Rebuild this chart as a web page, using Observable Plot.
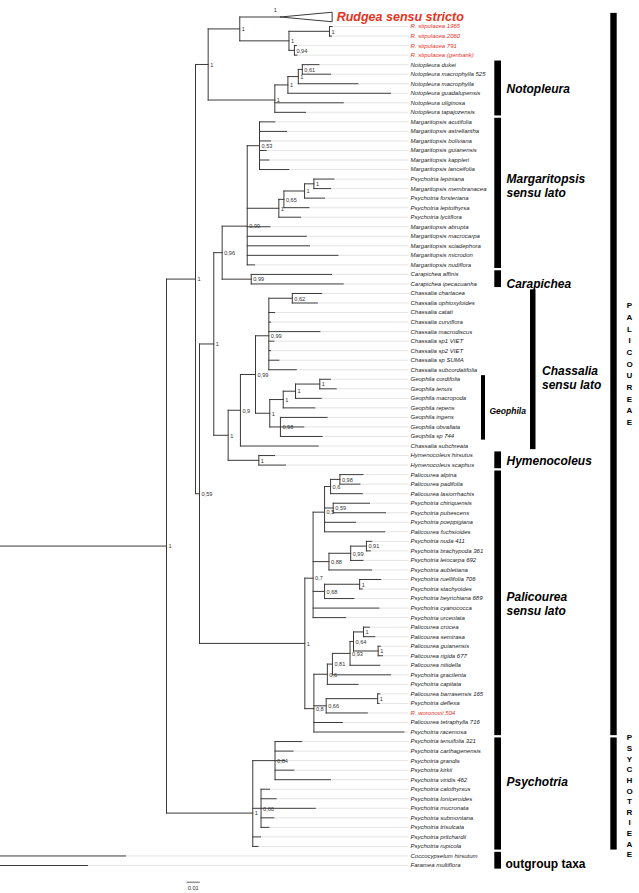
<!DOCTYPE html>
<html><head><meta charset="utf-8">
<script src="https://cdn.jsdelivr.net/npm/d3@7"></script>
<script src="https://cdn.jsdelivr.net/npm/@observablehq/plot@0.6"></script>
<style>html,body{margin:0;padding:0;background:#fff;overflow:hidden}</style>
</head><body><div id="chart"></div>
<script>
// ---------- DATA: clades as Newick strings (branch lengths in substitutions/site, node labels = posterior support) ----------
const rudgea = "('Rudgea sensu stricto':0.0305,(('R. stipulacea 1965':0.0019,'R. stipulacea 2060':0.0015)1:0.0304,('R. stipulacea 791':0.0015,'R. stipulacea (genbank)':0.0019)0.94:0.0041)1:0.0369)1:0.0237";
const notopleura = "(((('Notopleura dukei':0.0125,'Notopleura macrophylla 525':0.0212)0.61:0.0030,'Notopleura macrophylla':0.0447)1:0.0078,'Notopleura guadalupensis':0.0770)1:0.0098,'Notopleura uliginosa':0.0513,'Notopleura tapajozensis':0.0230)1:0.0500";
const margaritopsis = "(('Margaritopsis acutifolia':0.0115,'Margaritopsis astrellantha':0.0203,'Margaritopsis boliviana':0.0083,'Margaritopsis guianensis':0.0050,'Margaritopsis kappleri':0.0070,'Margaritopsis lanceifolia':0.0220)0.53:0.0092,(((('Psychotria lepiniana':0.0150,'Margaritopsis membranacea':0.0125)1:0.0070,'Psychotria forsteriana':0.0150)1:0.0155,'Psychotria leptothyrsa':0.0188)0.65:0.0038,'Psychotria lyciiflora':0.0163)1:0.0237,'Margaritopsis abrupta':0.0170,'Margaritopsis macrocarpa':0.0443,'Margaritopsis sciadephora':0.0467,'Margaritopsis microdon':0.0680,'Margaritopsis nudiflora':0.0055)0.99:0.0188";
const carapichea = "('Carapichea affinis':0.0602,'Carapichea ipecacuanha':0.0690)0.99:0.0218";
const chassalia = "(('Chassalia chartacea':0.0220,'Chassalia ophioxyloides':0.0188)0.62:0.0176,'Chassalia catati':0.0043,'Chassalia curviflora':0.0013,'Chassalia macrodiscus':0.0383,'Chassalia sp1 VIET':0.0038,'Chassalia sp2 VIET':0.0013,'Chassalia sp SUMA':0.0075,'Chassalia subcordatifolia':0.0206)0.99:0.0100";
const geophila = "(((('Geophila cordifolia':0.0080,'Geophila tenuis':0.0123)1:0.0182,'Geophila macropoda':0.0193)1:0.0092,'Geophila repens':0.0237)1:0.0101,('Geophila ingens':0.0350,'Geophila obvallata':0.0175,'Geophila sp 744':0.0313)0.98:0.0080)1:0.0107";
const hymenocoleus = "('Hymenocoleus hirsutus':0.0118,'Hymenocoleus scaphus':0.0200)1:0.0230";
const palicoureaA = "((('Palicourea alpina':0.0173,'Palicourea padifolia':0.0150)0.98:0.0070,'Palicourea lasiorrhachis':0.0238)0.6:0.0045,('Psychotria chiriquensis':0.0272,'Psychotria pubescens':0.0392)0.59:0.0065,'Psychotria poeppigiana':0.0233,'Palicourea fuchsioides':0.0450)0.5:0.0086";
const palicoureaB = "((('Psychotria nuda 411':0.0040,'Psychotria brachypoda 361':0.0029)0.91:0.0118,'Psychotria leiocarpa 692':0.0092)0.99:0.0163,'Psychotria aubletiana':0.0320)0.88:0.0119";
const palicoureaC = "(('Psychotria ruellifolia 706':0.0158,'Psychotria stachyoides':0.0020)1:0.0263,'Psychotria beyrichiana 689':0.0220)0.68:0.0086";
const palicoureaD = "((((('Palicourea crocea':0.0044,'Palicourea semirasa':0.0085)1:0.0075,('Palicourea guianensis':0.0017,'Palicourea rigida 677':0.0032)1:0.0185)0.64:0.0026,'Palicourea nitidella':0.0223)0.93:0.0132,'Psychotria gracilenta':0.0437)0.81:0.0038,'Psychotria capitata':0.0230)0.6:0.0101";
const palicoureaE = "(('Palicourea barrasensis 165':0.0017,'Psychotria deflexa':0.0011)1:0.0386,'R. woronovii 504':0.0309)0.66:0.0092";
const psychotria = "(('Psychotria tenuifolia 321':0.0199,'Psychotria carthagenensis':0.0135,'Psychotria grandis':0.0074,'Psychotria kirkii':0.0141,'Psychotria viridis 462':0.0416)0.84:0.0167,('Psychotria calothyrsus':0.0064,'Psychotria loniceroides':0.0113,'Psychotria mucronata':0.0407,'Psychotria submontana':0.0096,'Psychotria trisulcata':0.0059)0.66:0.0062,'Psychotria pritchardii':0.0058,'Psychotria rupicola':0.0039)1:0.0647";
const outgroups = "'Coccocypselum hirsutum':0.10875,'Faramea multiflora':0.08025";

const palicoureaY1 = `(${palicoureaA},${palicoureaB},${palicoureaC},'Psychotria cyanococca':0.0494,'Psychotria urceolata':0.0244)0.7:0.0062`;
const palicoureaY2 = `(${palicoureaD},${palicoureaE},'Palicourea tetraphylla 716':0.0213,'Psychotria racemosa':0.0675)0.8:0.0068`;
const palicourea = `(${palicoureaY1},${palicoureaY2})1:0.0790`;
const chassaliaSL = `(((${chassalia},${geophila})0.99:0.0113,'Chassalia subchreata':0.0583)0.9:0.0092,${hymenocoleus})1:0.0108`;
const margCara = `(${margaritopsis},${carapichea})0.96:0.0063`;
const lower = `((${margCara},${chassaliaSL})1:0.0107,${palicourea})0.59:0.0030`;
const upper = `(${rudgea},${notopleura})1:0.0095`;
const treeNewick = `(((${upper},${lower})1:0.02175,${psychotria})1:0.1395,${outgroups});`;

// collapsed clade drawn as triangle
const collapsedTaxa = ["Rudgea sensu stricto"];
const collapsedDepth = [0.0388];
const collapsedSupport = [1];
// taxa printed in red
const redTaxa = ["Rudgea sensu stricto", "R. stipulacea 1965", "R. stipulacea 2060", "R. stipulacea 791", "R. stipulacea (genbank)", "R. woronovii 504"];

// groups (bracket bars)
const groupNames = ["Notopleura", "Margaritopsis\nsensu lato", "Carapichea", "Chassalia\nsensu lato", "Geophila", "Hymenocoleus", "Palicourea\nsensu lato", "Psychotria", "outgroup taxa"];
const groupFirst = ["Notopleura dukei", "Margaritopsis acutifolia", "Carapichea affinis", "Chassalia chartacea", "Geophila cordifolia", "Hymenocoleus hirsutus", "Palicourea alpina", "Psychotria tenuifolia 321", "Coccocypselum hirsutum"];
const groupLast = ["Notopleura tapajozensis", "Margaritopsis nudiflora", "Carapichea ipecacuanha", "Chassalia subchreata", "Geophila sp 744", "Hymenocoleus scaphus", "Psychotria racemosa", "Psychotria rupicola", "Faramea multiflora"];
const groupLevel = [1, 1, 1, 2, 0, 1, 1, 1, 1];
// tribes
const tribeNames = ["PALICOUREAE", "PSYCHOTRIEAE"];
const tribeFirst = ["Rudgea sensu stricto", "Psychotria tenuifolia 321"];
const tribeLast = ["Psychotria racemosa", "Psychotria rupicola"];
const scaleBarLength = 0.01;

// ---------- layout / style (pixels) ----------
const W = 639, H = 893;
const PX = 0.00075;               // substitutions per pixel
const rootPx = -20;               // root sits just left of the frame
const xOf = p => (p - rootPx) * PX;
const yTop = 16.5, yBottom = 865;
const yStep = (yBottom - yTop) / 89;
const labelPx = 410;
const levelBar = [[481, 485], [494.3, 501], [530, 535.5]];
const levelLabel = [489, 506, 541.5];
const levelFont = [8.5, 12, 12];
const labelNudge = {"Margaritopsis\nsensu lato": -8, "Carapichea": 4, "Chassalia\nsensu lato": 8, "Geophila": 3, "Psychotria": -12, "outgroup taxa": 3};
const tribeBar = [610.3, 616.7];
const tribeNudge = [-11.5, 1.5];
const tribeLine = [1.46, 1.33];
const RED = "#e8321e", INK = "#1c1c1c", LINE = "#3a3a3a";
const FONT = '"Liberation Sans", Arial, Helvetica, sans-serif';

// ---------- Newick parsing ----------
function parseNewick(s) {
  let i = 0;
  const ws = () => { while (i < s.length && /\s/.test(s[i])) i++; };
  function node() {
    ws();
    const n = {children: [], label: "", length: 0};
    if (s[i] === "(") {
      i++;
      n.children.push(node()); ws();
      while (s[i] === ",") { i++; n.children.push(node()); ws(); }
      i++; // ')'
    }
    ws();
    if (s[i] === "'") { i++; let t = ""; while (s[i] !== "'") t += s[i++]; i++; n.label = t; }
    else { let t = ""; while (i < s.length && !":,();".includes(s[i])) t += s[i++]; n.label = t.trim(); }
    ws();
    if (s[i] === ":") { i++; let t = ""; while (i < s.length && !",();".includes(s[i])) t += s[i++]; n.length = +t; }
    return n;
  }
  return node();
}

const root = parseNewick(treeNewick);
const nodes = [], leaves = [];
(function walk(n, parent) {
  n.parent = parent;
  n.depth = parent ? parent.depth + n.length : 0;
  nodes.push(n);
  if (!n.children.length) { n.y = leaves.length; leaves.push(n); }
  else {
    n.children.forEach(c => walk(c, n));
    n.y = d3.mean(n.children, c => c.y);
    n.y1 = d3.min(n.children, c => c.y);
    n.y2 = d3.max(n.children, c => c.y);
  }
})(root, null);
const leafIndex = new Map(leaves.map(l => [l.label, l.y]));
const internal = nodes.filter(n => n.children.length);
const supported = internal.filter(n => n.parent && n.label !== "");
const fmt = v => (+v === 1 ? "1" : String(+v).replace(".", ","));

const collapsed = collapsedTaxa.map((t, k) => {
  const leaf = leaves.find(l => l.label === t);
  return {leaf, len: collapsedDepth[k], support: collapsedSupport[k]};
});
const triangles = collapsed.flatMap((c, k) => {
  const x0 = c.leaf.depth, x1 = x0 + c.len, y = c.leaf.y;
  return [{k, x: x0, y}, {k, x: x1, y: y - 0.5}, {k, x: x1, y: y + 0.5}, {k, x: x0, y}];
});
const plainLeaves = leaves.filter(l => !collapsedTaxa.includes(l.label));

const groups = groupNames.map((name, k) => {
  const a = leafIndex.get(groupFirst[k]), b = leafIndex.get(groupLast[k]);
  return {name, a, b, level: groupLevel[k], mid: (a + b) / 2 + (labelNudge[name] || 0) / yStep};
});
const tribes = tribeNames.map((name, k) => {
  const a = leafIndex.get(tribeFirst[k]), b = leafIndex.get(tribeLast[k]);
  return {name, a, b, text: name.split("").join("\n"), mid: (a + b) / 2 + tribeNudge[k] / yStep, lh: tribeLine[k]};
});

const barY = 89 + (881.7 - yBottom) / yStep;
const scaleBar = [{x1: xOf(186), x2: xOf(186) + scaleBarLength, y: barY}];

const chart = Plot.plot({
  width: W, height: H, margin: 0,
  style: {fontFamily: FONT, background: "#fff"},
  x: {domain: [0, (W + 1 - rootPx) * PX], range: [rootPx, W + 1], axis: null},
  y: {domain: [0, 89], range: [yTop, yBottom], axis: null},
  marks: [
    // leader lines
    Plot.link(plainLeaves, {x1: "depth", x2: () => xOf(labelPx - 2), y1: "y", y2: "y", stroke: "#d2d2d2", strokeWidth: 0.6, clip: true}),
    // horizontal branches
    Plot.link(nodes.filter(n => n.parent), {x1: d => d.parent.depth, x2: "depth", y1: "y", y2: "y", stroke: LINE, strokeWidth: 1, strokeLinecap: "square", clip: true}),
    // vertical connectors
    Plot.link(internal, {x1: "depth", x2: "depth", y1: "y1", y2: "y2", stroke: LINE, strokeWidth: 1, strokeLinecap: "square", clip: true}),
    // collapsed clade triangle
    Plot.line(triangles, {x: "x", y: "y", z: "k", stroke: LINE, strokeWidth: 1}),
    Plot.text(collapsed, {x: d => d.leaf.depth, y: d => d.leaf.y, text: d => fmt(d.support), dx: -5, dy: -6.5, fontSize: 5.6, fill: "#333"}),
    Plot.text(collapsed, {x: d => d.leaf.depth + d.len, y: d => d.leaf.y, text: d => d.leaf.label, dx: 4.5, textAnchor: "start", fontSize: 12.5, fontWeight: "bold", fontStyle: "italic", fill: RED}),
    // support values
    Plot.text(supported, {x: "depth", y: "y", text: d => fmt(d.label), dx: 2, dy: 0.5, textAnchor: "start", fontSize: 5.6, fill: "#333"}),
    // leaf labels
    Plot.text(plainLeaves.filter(l => !redTaxa.includes(l.label)), {x: () => xOf(labelPx), y: "y", text: "label", textAnchor: "start", fontSize: 6, fontStyle: "italic", fill: INK}),
    Plot.text(plainLeaves.filter(l => redTaxa.includes(l.label)), {x: () => xOf(labelPx), y: "y", text: "label", textAnchor: "start", fontSize: 6, fontStyle: "italic", fill: RED}),
    // group bars
    Plot.rect(groups, {x1: d => xOf(levelBar[d.level][0]), x2: d => xOf(levelBar[d.level][1]), y1: d => d.a - 0.38, y2: d => d.b + 0.38, fill: "#000"}),
    ...[0, 1, 2].map(lv => Plot.text(groups.filter(g => g.level === lv && g.name !== "outgroup taxa"), {x: () => xOf(levelLabel[lv]), y: "mid", text: "name", textAnchor: "start", lineAnchor: "middle", lineHeight: 1.17, fontSize: levelFont[lv], fontWeight: "bold", fontStyle: "italic", fill: "#000"})),
    Plot.text(groups.filter(g => g.name === "outgroup taxa"), {x: () => xOf(levelLabel[1] - 1), y: "mid", text: "name", textAnchor: "start", fontSize: 12, fontWeight: "bold", fill: "#000"}),
    // tribe bars and letters
    Plot.rect(tribes, {x1: () => xOf(tribeBar[0]), x2: () => xOf(tribeBar[1]), y1: d => d.a - 0.38, y2: d => d.b + 0.38, fill: "#000"}),
    ...tribes.map(t => Plot.text([t], {x: () => xOf(629), y: "mid", text: "text", lineAnchor: "middle", lineHeight: t.lh, fontSize: 8, fontWeight: "bold", fill: "#000"})),
    // scale bar
    Plot.link(scaleBar, {x1: "x1", x2: "x2", y1: "y", y2: "y", stroke: LINE, strokeWidth: 0.8}),
    Plot.text(scaleBar, {x: d => (d.x1 + d.x2) / 2, y: "y", text: () => String(scaleBarLength), dy: 6, fontSize: 5.6, fill: "#333"})
  ]
});
document.getElementById("chart").appendChild(chart);
</script></body></html>
